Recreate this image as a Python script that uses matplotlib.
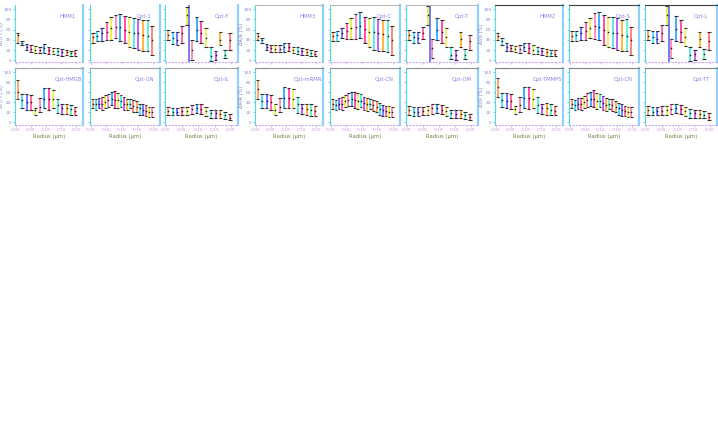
import matplotlib
matplotlib.use("Agg")
import matplotlib.pyplot as plt
import numpy as np

# ---------------- data (values: hi / mid / lo) ----------------
# Group 1
G1_HMM_HI  = [53, 37, 32, 30, 29, 27, 32, 27, 24, 24, 22, 21, 19, 21]
G1_HMM_MID = [50, 34, 27, 23, 21, 21, 24, 21, 18, 18, 16, 16, 14, 14]
G1_HMM_LO  = [34, 30, 21, 16, 14, 14, 14, 13, 13, 11, 9, 11, 8, 8]

G1_OPT1_HI  = [53, 58, 63, 74, 84, 89, 91, 86, 84, 82, 80, 78, 79, 68]
G1_OPT1_MID = [45, 48, 53, 56, 63, 66, 66, 60, 56, 53, 53, 50, 47, 39]
G1_OPT1_LO  = [34, 37, 37, 39, 40, 43, 37, 34, 27, 24, 21, 18, 18, 11]

G1_OPTF_HI  = [60, 55, 55, 68, 105, 40, 84, 76, 63, 27, 18, 56, 21, 53]
G1_OPTF_MID = [50, 44, 40, 53, 88, 21, 60, 53, 44, 8, 11, 40, 11, 40]
G1_OPTF_LO  = [40, 32, 30, 34, 69, 1, 37, 34, 27, -2, 1, 30, 5, 21]

G1_HMGB_HI  = [85, 57, 57, 55, 28, 49, 68, 68, 65, 47, 37, 37, 34, 31]
G1_HMGB_MID = [60, 44, 41, 41, 24, 31, 47, 47, 47, 34, 28, 28, 26, 22]
G1_HMGB_LO  = [47, 28, 24, 24, 14, 21, 28, 24, 28, 18, 16, 16, 14, 14]

G1_GN_HI  = [47, 46, 49, 51, 54, 57, 60, 62, 59, 55, 51, 47, 47, 44, 42, 37, 36, 34, 31, 31]
G1_GN_MID = [37, 36, 37, 36, 41, 44, 47, 44, 44, 42, 37, 36, 37, 33, 31, 28, 24, 22, 21, 21]
G1_GN_LO  = [28, 24, 28, 24, 29, 31, 34, 28, 28, 31, 24, 24, 28, 21, 21, 14, 14, 13, 11, 11]

G1_IL_HI  = [31, 29, 29, 31, 31, 34, 37, 36, 31, 24, 24, 24, 21, 16]
G1_IL_MID = [22, 21, 21, 22, 22, 26, 28, 26, 22, 18, 18, 16, 14, 9]
G1_IL_LO  = [14, 14, 14, 14, 14, 16, 18, 16, 13, 9, 9, 8, 7, 5]

# Group 2
G2_HMM_HI  = [53, 44, 32, 30, 30, 30, 34, 34, 27, 26, 24, 22, 21, 19]
G2_HMM_MID = [47, 39, 27, 24, 22, 22, 27, 27, 21, 19, 18, 16, 14, 13]
G2_HMM_LO  = [40, 34, 21, 16, 16, 16, 16, 18, 14, 13, 11, 11, 9, 8]

G2_OPTC_HI  = [55, 58, 63, 73, 82, 91, 94, 84, 82, 84, 80, 79, 79, 68]
G2_OPTC_MID = [47, 50, 53, 58, 63, 66, 68, 61, 56, 56, 53, 52, 48, 39]
G2_OPTC_LO  = [37, 37, 43, 42, 42, 42, 43, 34, 27, 21, 19, 18, 16, 11]

G2_OPTT_HI  = [60, 55, 55, 66, 106, 42, 82, 78, 63, 27, 21, 56, 22, 50]
G2_OPTT_MID = [50, 45, 44, 53, 88, 24, 60, 56, 45, 11, 11, 42, 11, 37]
G2_OPTT_LO  = [40, 34, 34, 42, 69, 5, 40, 34, 27, 3, 1, 27, 3, 21]

G2_MRMR_HI  = [85, 57, 57, 55, 36, 49, 70, 68, 66, 51, 37, 37, 36, 33]
G2_MRMR_MID = [67, 42, 42, 41, 24, 31, 49, 49, 47, 36, 28, 26, 24, 22]
G2_MRMR_LO  = [47, 28, 28, 24, 14, 21, 28, 28, 29, 18, 16, 14, 13, 13]

G2_CN_HI  = [46, 45, 48, 50, 55, 58, 60, 61, 58, 56, 50, 48, 46, 45, 42, 38, 35, 33, 32, 31]
G2_CN_MID = [37, 35, 36, 37, 42, 45, 46, 45, 43, 42, 38, 36, 36, 34, 31, 27, 25, 22, 21, 20]
G2_CN_LO  = [27, 25, 27, 25, 30, 32, 33, 29, 27, 30, 25, 23, 27, 22, 20, 15, 13, 12, 11, 10]

G2_OM_HI  = [33, 30, 30, 31, 32, 37, 37, 34, 30, 25, 24, 24, 21, 17]
G2_OM_MID = [24, 21, 21, 22, 24, 28, 28, 25, 22, 18, 17, 17, 14, 10]
G2_OM_LO  = [14, 13, 13, 14, 15, 17, 18, 16, 13, 9, 9, 9, 7, 5]

# Group 3
G3_HMM_HI  = [53, 44, 34, 30, 29, 30, 34, 34, 30, 27, 24, 22, 21, 21]
G3_HMM_MID = [48, 37, 27, 24, 22, 22, 26, 24, 21, 19, 18, 16, 14, 13]
G3_HMM_LO  = [40, 30, 18, 18, 16, 14, 18, 14, 13, 13, 11, 9, 8, 8]

G3_OPTS_HI  = [57, 58, 66, 74, 82, 92, 94, 89, 84, 84, 82, 79, 80, 66]
G3_OPTS_MID = [47, 50, 53, 58, 63, 68, 66, 60, 56, 53, 53, 50, 47, 39]
G3_OPTS_LO  = [37, 37, 39, 40, 43, 42, 40, 30, 27, 24, 21, 18, 18, 11]

G3_OPTL_HI  = [60, 57, 57, 69, 106, 42, 86, 78, 63, 27, 21, 56, 22, 55]
G3_OPTL_MID = [48, 45, 42, 53, 88, 24, 61, 56, 45, 11, 13, 42, 13, 37]
G3_OPTL_LO  = [40, 34, 34, 37, 69, 5, 37, 35, 29, -2, 1, 27, 3, 21]

G3_TMM_HI  = [88, 58, 58, 57, 33, 50, 70, 70, 66, 50, 37, 38, 36, 33]
G3_TMM_MID = [70, 44, 43, 42, 26, 34, 49, 49, 47, 35, 29, 28, 25, 22]
G3_TMM_LO  = [50, 30, 29, 27, 17, 21, 29, 27, 28, 19, 16, 15, 15, 14]

G3_CN_HI  = [47, 44, 48, 49, 53, 58, 61, 64, 59, 56, 52, 48, 47, 46, 42, 38, 36, 33, 31, 30]
G3_CN_MID = [37, 34, 36, 36, 40, 44, 46, 46, 43, 42, 38, 35, 37, 34, 31, 28, 24, 22, 21, 20]
G3_CN_LO  = [29, 25, 27, 24, 28, 31, 33, 30, 27, 30, 25, 22, 27, 22, 21, 14, 13, 12, 11, 10]

G3_TT_HI  = [33, 30, 31, 33, 33, 36, 37, 35, 31, 26, 25, 25, 22, 18]
G3_TT_MID = [24, 21, 22, 23, 24, 27, 28, 27, 22, 18, 18, 17, 14, 10]
G3_TT_LO  = [15, 14, 14, 14, 15, 17, 18, 17, 13, 9, 9, 9, 8, 5]

TITLES = [["HMM1", "Opt-1", "Opt-F"], ["Opt-HMGB", "Opt-GN", "Opt-IL"],
          ["HMM3", "Opt-C", "Opt-T"], ["Opt-mRMR", "Opt-CN", "Opt-OM"],
          ["HMM2", "Opt-S", "Opt-L"], ["Opt-TMMPS", "Opt-CN", "Opt-TT"]]

X_TICKS = [0.00, 0.05, 0.10, 0.15, 0.20]
X_TICKLABELS = ["0.00", "0.05", "0.10", "0.15", "0.20"]
Y_TICKS = [0, 20, 40, 60, 80, 100]
YLABELS = ["ΔF/F₀ (%)", "ΔF/F₀ (%)", "ΔR/R (%)", "ΔR/R (%)", "ΔI/I₀ (%)", "ΔI/I₀ (%)"]
XLABEL = "Radius (µm)"

COLORS = ['#ffa060', '#40e0ff', '#7070ff', '#ff5f9f', '#e8f040', '#ff88b8',
          '#30a8ff', '#ff40a0', '#f0f060', '#50e8e0', '#c050ff', '#ffb030',
          '#60f0c8', '#ff7878']

PANELS = [
    [(G1_HMM_HI, G1_HMM_MID, G1_HMM_LO), (G1_OPT1_HI, G1_OPT1_MID, G1_OPT1_LO), (G1_OPTF_HI, G1_OPTF_MID, G1_OPTF_LO)],
    [(G1_HMGB_HI, G1_HMGB_MID, G1_HMGB_LO), (G1_GN_HI, G1_GN_MID, G1_GN_LO), (G1_IL_HI, G1_IL_MID, G1_IL_LO)],
    [(G2_HMM_HI, G2_HMM_MID, G2_HMM_LO), (G2_OPTC_HI, G2_OPTC_MID, G2_OPTC_LO), (G2_OPTT_HI, G2_OPTT_MID, G2_OPTT_LO)],
    [(G2_MRMR_HI, G2_MRMR_MID, G2_MRMR_LO), (G2_CN_HI, G2_CN_MID, G2_CN_LO), (G2_OM_HI, G2_OM_MID, G2_OM_LO)],
    [(G3_HMM_HI, G3_HMM_MID, G3_HMM_LO), (G3_OPTS_HI, G3_OPTS_MID, G3_OPTS_LO), (G3_OPTL_HI, G3_OPTL_MID, G3_OPTL_LO)],
    [(G3_TMM_HI, G3_TMM_MID, G3_TMM_LO), (G3_CN_HI, G3_CN_MID, G3_CN_LO), (G3_TT_HI, G3_TT_MID, G3_TT_LO)],
]

# ---------------- layout ----------------
W, H = 718, 424
fig = plt.figure(figsize=(W / 100, H / 100), dpi=100)
fig.patch.set_facecolor('white')

GROUP_X = [[(15, 83), (90, 160), (165, 238)],
           [(255, 323), (330, 400), (406, 478)],
           [(495, 563), (569, 639), (645, 717)]]
ROW_Y = [(5, 62), (68, 125)]
TOP_SPINE = [['none', '#a0a0a0'], ['#b8b8b8', '#909090'], ['#404040', '#808080']]


def add_ax(x0, x1, y0, y1):
    return fig.add_axes([x0 / W, 1 - y1 / H, (x1 - x0) / W, (y1 - y0) / H])


for g in range(3):
    for r in range(2):
        for c in range(3):
            x0, x1 = GROUP_X[g][c]
            y0, y1 = ROW_Y[r]
            ax = add_ax(x0, x1, y0, y1)
            hi, mid, lo = PANELS[g * 2 + r][c]
            n = len(mid)
            xs = np.linspace(0.007, 0.197, n)
            cw = 0.0055 if n <= 14 else 0.0045
            for i in range(n):
                col = COLORS[i % len(COLORS)]
                ax.vlines(xs[i], lo[i], hi[i], color=col, lw=1.3, zorder=2)
                ax.hlines([lo[i], hi[i]], xs[i] - cw, xs[i] + cw,
                          color='#303030', lw=0.8, zorder=3)
                ax.plot(xs[i], mid[i], 'o', ms=1.2, color='#202020', mew=0, zorder=4)
            if r == 0 and c == 2:
                ax.axvline(0.072, color='#4a5ee8', lw=1.1, zorder=1)
            ax.set_xlim(-0.002, 0.222)
            ax.set_ylim(-3 if r == 0 else -5, 108)
            ax.set_xticks(X_TICKS)
            ax.set_yticks(Y_TICKS)
            ax.tick_params(axis='both', length=1.5, width=0.5, pad=1,
                           labelsize=3.2, colors='#8a8ad0')
            ax.tick_params(axis='x', colors='#d090e0')
            if r == 1:
                ax.set_xticklabels(X_TICKLABELS)
                ax.set_xlabel(XLABEL, fontsize=3.8, labelpad=1, color='#7a7a40')
            else:
                ax.set_xticklabels([])
            if c == 0:
                ax.set_ylabel(YLABELS[g * 2 + r], fontsize=3.6, color='#8a80b0')
                ax.yaxis.set_label_coords(-0.16, 0.5)
            else:
                ax.set_yticklabels([])
            ax.text(0.78, 0.8, TITLES[g * 2 + r][c], transform=ax.transAxes,
                    fontsize=3.8, color='#9080e0', ha='center', va='center')
            ax.spines['left'].set_color('#40e0e8')
            ax.spines['left'].set_linewidth(0.8)
            ax.spines['right'].set_color('#90d0ff')
            ax.spines['right'].set_linewidth(1.6)
            ax.spines['bottom'].set_color('#c8a8f0')
            ax.spines['bottom'].set_linewidth(0.8)
            ax.spines['bottom'].set_linestyle((0, (1, 2)))
            tc = TOP_SPINE[g][r]
            if tc == 'none':
                ax.spines['top'].set_visible(False)
            else:
                ax.spines['top'].set_color(tc)
                ax.spines['top'].set_linewidth(0.8)
            ax.set_facecolor('white')

fig.savefig("out.png", dpi=100, facecolor='white')
